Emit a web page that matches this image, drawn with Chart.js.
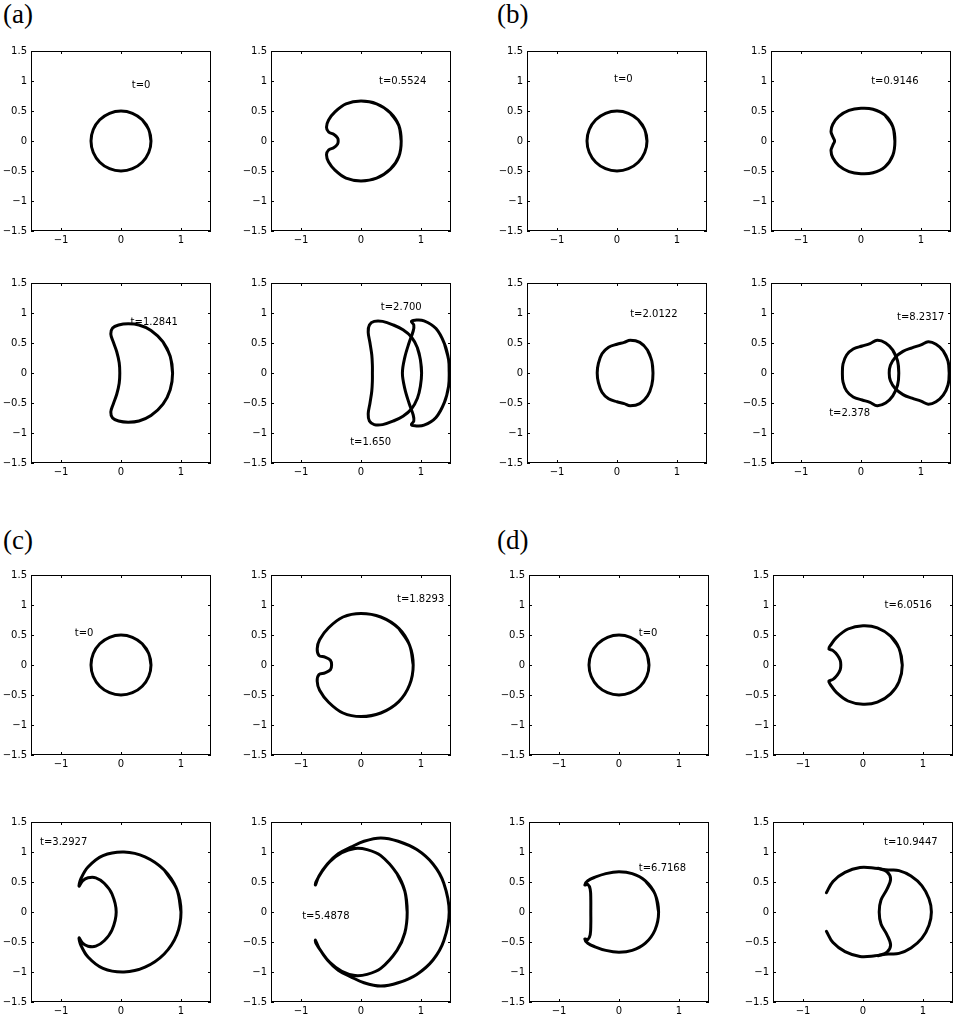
<!DOCTYPE html>
<html><head><meta charset="utf-8">
<script src="https://cdn.jsdelivr.net/npm/chart.js@4.4.0/dist/chart.umd.min.js"></script>
<style>
body{margin:0;background:#fff;width:965px;height:1024px;position:relative;overflow:hidden;}
.p{position:absolute;width:230px;height:215px;}
.lab{position:absolute;font-family:"Liberation Serif","Times New Roman",serif;font-size:27px;line-height:1;color:#000;}
</style></head><body>
<div class="lab" style="left:3px;top:1px">(a)</div>
<div class="lab" style="left:497px;top:1px">(b)</div>
<div class="lab" style="left:3px;top:527px">(c)</div>
<div class="lab" style="left:497px;top:527px">(d)</div>
<script>
// ---------- tick labels ----------
const xTickVals = [-1, 0, 1];
const yTickVals = [-1.5, -1, -0.5, 0, 0.5, 1, 1.5];

// ---------- curves (x, y); closed curves repeat their first points ----------
const circle_t0 = [[0.5,0],[0.462,0.191],[0.354,0.354],[0.191,0.462],[0,0.5],[-0.191,0.462],[-0.354,0.354],[-0.462,0.191],[-0.5,0],[-0.462,-0.191],[-0.354,-0.354],[-0.191,-0.462],[0,-0.5],[0.191,-0.462],[0.354,-0.354],[0.462,-0.191],[0.5,0],[0.462,0.191],[0.354,0.354]];

const a2_t05524 = [[0.67,0],[0.63,0.26],[0.49,0.47],[0.26,0.62],[0,0.665],[-0.25,0.62],[-0.43,0.49],[-0.54,0.35],[-0.575,0.23],[-0.54,0.15],[-0.45,0.11],[-0.39,0.05],[-0.38,0],[-0.39,-0.05],[-0.45,-0.11],[-0.54,-0.15],[-0.575,-0.23],[-0.54,-0.35],[-0.43,-0.49],[-0.25,-0.62],[0,-0.665],[0.26,-0.62],[0.49,-0.47],[0.63,-0.26],[0.67,0],[0.63,0.26],[0.49,0.47]];

const a3_t12841 = [[0.86,0],[0.82,0.28],[0.7,0.52],[0.5,0.71],[0.3,0.8],[0.12,0.82],[-0.04,0.8],[-0.14,0.75],[-0.17,0.65],[-0.13,0.52],[-0.07,0.35],[-0.03,0.17],[-0.02,0],[-0.03,-0.17],[-0.07,-0.35],[-0.13,-0.52],[-0.17,-0.65],[-0.14,-0.75],[-0.04,-0.8],[0.12,-0.82],[0.3,-0.8],[0.5,-0.71],[0.7,-0.52],[0.82,-0.28],[0.86,0],[0.82,0.28],[0.7,0.52]];

const a4_t1650 = [[1.01,0],[0.99,0.22],[0.94,0.42],[0.84,0.6],[0.7,0.72],[0.54,0.8],[0.36,0.86],[0.22,0.86],[0.14,0.8],[0.12,0.68],[0.15,0.5],[0.18,0.3],[0.19,0.12],[0.19,0],[0.19,-0.12],[0.18,-0.3],[0.15,-0.5],[0.12,-0.68],[0.14,-0.8],[0.22,-0.86],[0.36,-0.86],[0.54,-0.8],[0.7,-0.72],[0.84,-0.6],[0.94,-0.42],[0.99,-0.22],[1.01,0],[0.99,0.22],[0.94,0.42]];

const a4_t2700 = [[1.47,0],[1.46,0.22],[1.39,0.49],[1.25,0.74],[1.05,0.87],[0.9,0.88],[0.84,0.86],[0.88,0.8],[0.87,0.7],[0.8,0.5],[0.73,0.26],[0.69,0],[0.73,-0.26],[0.8,-0.5],[0.87,-0.7],[0.88,-0.8],[0.84,-0.86],[0.9,-0.88],[1.05,-0.87],[1.25,-0.74],[1.39,-0.49],[1.46,-0.22],[1.47,0],[1.46,0.22],[1.39,0.49]];

const b2_t09146 = [[0.565,0],[0.53,0.24],[0.4,0.43],[0.2,0.53],[0,0.545],[-0.2,0.51],[-0.37,0.41],[-0.47,0.28],[-0.5,0.16],[-0.47,0.07],[-0.44,0],[-0.47,-0.07],[-0.5,-0.16],[-0.47,-0.28],[-0.37,-0.41],[-0.2,-0.51],[0,-0.545],[0.2,-0.53],[0.4,-0.43],[0.53,-0.24],[0.565,0],[0.53,0.24],[0.4,0.43]];

const b3_t20122 = [[0.6,0],[0.58,0.2],[0.51,0.38],[0.38,0.51],[0.22,0.545],[0.12,0.51],[0,0.48],[-0.14,0.43],[-0.25,0.32],[-0.31,0.16],[-0.33,0],[-0.31,-0.16],[-0.25,-0.32],[-0.14,-0.43],[0,-0.48],[0.12,-0.51],[0.22,-0.545],[0.38,-0.51],[0.51,-0.38],[0.58,-0.2],[0.6,0],[0.58,0.2],[0.51,0.38]];

const b4_t2378 = [[0.63,0],[0.61,0.2],[0.53,0.38],[0.41,0.5],[0.27,0.545],[0.15,0.49],[0.02,0.45],[-0.13,0.4],[-0.24,0.3],[-0.3,0.15],[-0.31,0],[-0.3,-0.15],[-0.24,-0.3],[-0.13,-0.4],[0.02,-0.45],[0.15,-0.49],[0.27,-0.545],[0.41,-0.5],[0.53,-0.38],[0.61,-0.2],[0.63,0],[0.61,0.2],[0.53,0.38]];

const b4_t82317 = [[1.47,0],[1.45,0.2],[1.37,0.37],[1.25,0.48],[1.12,0.52],[1.0,0.47],[0.85,0.42],[0.7,0.36],[0.57,0.26],[0.49,0.13],[0.47,0],[0.49,-0.13],[0.57,-0.26],[0.7,-0.36],[0.85,-0.42],[1.0,-0.47],[1.12,-0.52],[1.25,-0.48],[1.37,-0.37],[1.45,-0.2],[1.47,0],[1.45,0.2],[1.37,0.37]];

const c2_t18293 = [[0.87,0],[0.81,0.33],[0.63,0.61],[0.33,0.8],[0,0.86],[-0.3,0.8],[-0.54,0.62],[-0.69,0.42],[-0.73,0.27],[-0.7,0.16],[-0.6,0.13],[-0.51,0.08],[-0.49,0],[-0.51,-0.08],[-0.6,-0.13],[-0.7,-0.16],[-0.73,-0.27],[-0.69,-0.42],[-0.54,-0.62],[-0.3,-0.8],[0,-0.86],[0.33,-0.8],[0.63,-0.61],[0.81,-0.33],[0.87,0],[0.81,0.33],[0.63,0.61]];

const c3_t32927 = [[1.0,0],[0.93,0.38],[0.72,0.7],[0.4,0.92],[0.05,1.0],[-0.3,0.94],[-0.55,0.75],[-0.67,0.55],[-0.7,0.43],[-0.64,0.52],[-0.55,0.57],[-0.42,0.57],[-0.28,0.48],[-0.15,0.3],[-0.08,0],[-0.15,-0.3],[-0.28,-0.48],[-0.42,-0.57],[-0.55,-0.57],[-0.64,-0.52],[-0.7,-0.43],[-0.67,-0.55],[-0.55,-0.75],[-0.3,-0.94],[0.05,-1.0],[0.4,-0.92],[0.72,-0.7],[0.93,-0.38],[1.0,0],[0.93,0.38],[0.72,0.7]];

const c4_t54878 = [[0.77,0],[0.73,0.35],[0.6,0.64],[0.33,0.94],[0.1,1.04],[-0.1,1.06],[-0.32,0.99],[-0.52,0.84],[-0.66,0.66],[-0.75,0.5],[-0.76,0.45],[-0.7,0.6],[-0.56,0.8],[-0.38,0.97],[-0.17,1.08],[0.05,1.18],[0.33,1.235],[0.62,1.18],[0.93,1.04],[1.2,0.8],[1.38,0.48],[1.47,0],[1.38,-0.48],[1.2,-0.8],[0.93,-1.04],[0.62,-1.18],[0.33,-1.235],[0.05,-1.18],[-0.17,-1.08],[-0.38,-0.97],[-0.56,-0.8],[-0.7,-0.6],[-0.76,-0.47],[-0.75,-0.52],[-0.66,-0.66],[-0.52,-0.84],[-0.32,-0.99],[-0.1,-1.06],[0.1,-1.04],[0.33,-0.94],[0.6,-0.64],[0.73,-0.35],[0.77,0],[0.73,0.35],[0.6,0.64]];

const d2_t60516 = [[0.655,0],[0.6,0.28],[0.46,0.48],[0.24,0.62],[0,0.655],[-0.25,0.6],[-0.44,0.46],[-0.54,0.33],[-0.57,0.27],[-0.5,0.24],[-0.43,0.17],[-0.38,0.08],[-0.37,0],[-0.38,-0.08],[-0.43,-0.17],[-0.5,-0.24],[-0.57,-0.27],[-0.54,-0.33],[-0.44,-0.46],[-0.25,-0.6],[0,-0.655],[0.24,-0.62],[0.46,-0.48],[0.6,-0.28],[0.655,0],[0.6,0.28],[0.46,0.48]];

const d3_t67168 = [[0.66,0],[0.6,0.3],[0.44,0.52],[0.22,0.64],[0,0.67],[-0.22,0.64],[-0.4,0.58],[-0.52,0.52],[-0.57,0.45],[-0.52,0.46],[-0.48,0.38],[-0.47,0.2],[-0.47,0],[-0.47,-0.2],[-0.48,-0.38],[-0.52,-0.46],[-0.57,-0.45],[-0.52,-0.52],[-0.4,-0.58],[-0.22,-0.64],[0,-0.67],[0.22,-0.64],[0.44,-0.52],[0.6,-0.3],[0.66,0],[0.6,0.3],[0.44,0.52]];

const d4_t109447_outer = [[-0.61,0.32],[-0.5,0.51],[-0.3,0.66],[-0.05,0.74],[0.2,0.73],[0.42,0.7],[0.6,0.69],[0.8,0.6],[0.98,0.44],[1.1,0.22],[1.14,0],[1.1,-0.22],[0.98,-0.44],[0.8,-0.6],[0.6,-0.69],[0.42,-0.7],[0.2,-0.73],[-0.05,-0.74],[-0.3,-0.66],[-0.5,-0.51],[-0.61,-0.32]];
const d4_t109447_inner = [[0.25,0.73],[0.4,0.67],[0.46,0.55],[0.4,0.38],[0.3,0.2],[0.27,0],[0.3,-0.2],[0.4,-0.38],[0.46,-0.55],[0.4,-0.67],[0.25,-0.73]];

// ---------- time labels: [text, x, y] ----------
const notesA1 = [['t=0', 0.18, 0.92]];
const notesA2 = [['t=0.5524', 0.3, 1.0]];
const notesA3 = [['t=1.2841', 0.16, 0.85]];
const notesA4 = [['t=2.700', 0.33, 1.1], ['t=1.650', -0.18, -1.16]];
const notesB1 = [['t=0', -0.05, 1.02]];
const notesB2 = [['t=0.9146', 0.17, 1.0]];
const notesB3 = [['t=2.0122', 0.22, 0.98]];
const notesB4 = [['t=8.2317', 0.6, 0.93], ['t=2.378', -0.53, -0.68]];
const notesC1 = [['t=0', -0.77, 0.53]];
const notesC2 = [['t=1.8293', 0.6, 1.1]];
const notesC3 = [['t=3.2927', -1.35, 1.16]];
const notesC4 = [['t=5.4878', -0.98, -0.08]];
const notesD1 = [['t=0', 0.33, 0.53]];
const notesD2 = [['t=6.0516', 0.36, 1.0]];
const notesD3 = [['t=6.7168', 0.33, 0.73]];
const notesD4 = [['t=10.9447', 0.35, 1.16]];

// ---------- layout (plot-area left/top in px) ----------
const panels = [
  {left:31,  top:51,  curves:[circle_t0], notes:notesA1},
  {left:271, top:51,  curves:[a2_t05524], notes:notesA2},
  {left:31,  top:283, curves:[a3_t12841], notes:notesA3},
  {left:271, top:283, curves:[a4_t1650, a4_t2700], notes:notesA4},
  {left:527, top:51,  curves:[circle_t0], notes:notesB1},
  {left:771, top:51,  curves:[b2_t09146], notes:notesB2},
  {left:527, top:283, curves:[b3_t20122], notes:notesB3},
  {left:771, top:283, curves:[b4_t2378, b4_t82317], notes:notesB4},
  {left:31,  top:575, curves:[circle_t0], notes:notesC1},
  {left:271, top:575, curves:[c2_t18293], notes:notesC2},
  {left:31,  top:822, curves:[c3_t32927], notes:notesC3},
  {left:271, top:822, curves:[c4_t54878], notes:notesC4},
  {left:529, top:575, curves:[circle_t0], notes:notesD1},
  {left:773, top:575, curves:[d2_t60516], notes:notesD2},
  {left:529, top:822, curves:[d3_t67168], notes:notesD3},
  {left:773, top:822, curves:[d4_t109447_outer, d4_t109447_inner], notes:notesD4}
];

const FONT = '"DejaVu Sans", "Liberation Sans", Arial, sans-serif';
const fmt = v => (v < 0 ? '\u2212' : '') + Math.abs(v);

function boxPlugin(notes){
  return {id:'box', afterDraw(chart){
    const ctx = chart.ctx, a = chart.chartArea, xs = chart.scales.x, ys = chart.scales.y;
    ctx.save();
    ctx.strokeStyle = '#000'; ctx.lineWidth = 1;
    ctx.strokeRect(a.left + 0.5, a.top + 0.5, a.right - a.left - 1, a.bottom - a.top - 1);
    ctx.beginPath();
    for (const v of xTickVals){
      const px = Math.round(xs.getPixelForValue(v)) + 0.5;
      ctx.moveTo(px, a.bottom); ctx.lineTo(px, a.bottom - 3);
      ctx.moveTo(px, a.top); ctx.lineTo(px, a.top + 3);
    }
    for (const v of yTickVals){
      const py = Math.round(ys.getPixelForValue(v)) + 0.5;
      ctx.moveTo(a.left, py); ctx.lineTo(a.left + 3, py);
      ctx.moveTo(a.right, py); ctx.lineTo(a.right - 3, py);
    }
    ctx.stroke();
    ctx.fillStyle = '#000';
    ctx.font = '10px ' + FONT;
    ctx.textAlign = 'left'; ctx.textBaseline = 'middle';
    for (const [t, vx, vy] of notes) ctx.fillText(t, xs.getPixelForValue(vx), ys.getPixelForValue(vy));
    ctx.restore();
  }};
}

function makeChart(p){
  const div = document.createElement('div');
  div.className = 'p';
  div.style.left = (p.left - 40) + 'px';
  div.style.top = (p.top - 10) + 'px';
  const cv = document.createElement('canvas');
  cv.width = 230; cv.height = 215;
  div.appendChild(cv);
  document.body.appendChild(div);
  new Chart(cv, {
    type: 'scatter',
    data: {datasets: p.curves.map(c => ({
      data: c.map(([x, y]) => ({x, y})),
      showLine: true, borderColor: '#000', borderWidth: 3, pointRadius: 0,
      tension: 0.36, fill: false, borderCapStyle: 'round', borderJoinStyle: 'round'
    }))},
    options: {
      responsive: false, animation: false, events: [],
      layout: {padding: {left: 0, top: 10, right: 10, bottom: 0}},
      plugins: {legend: {display: false}, tooltip: {enabled: false}},
      scales: {
        x: {type: 'linear', min: -1.5, max: 1.5,
          afterBuildTicks: s => { s.ticks = xTickVals.map(v => ({value: v})); },
          afterFit: s => { s.height = 25; },
          grid: {display: false, drawTicks: false}, border: {display: false},
          ticks: {font: {family: FONT, size: 10}, color: '#000', padding: 3, maxRotation: 0, autoSkip: false, callback: fmt}},
        y: {type: 'linear', min: -1.5, max: 1.5,
          afterBuildTicks: s => { s.ticks = yTickVals.map(v => ({value: v})); },
          afterFit: s => { s.width = 40; },
          grid: {display: false, drawTicks: false}, border: {display: false},
          ticks: {font: {family: FONT, size: 10}, color: '#000', padding: 4, autoSkip: false, callback: fmt}}
      }
    },
    plugins: [boxPlugin(p.notes)]
  });
}
panels.forEach(makeChart);
</script>
</body></html>
